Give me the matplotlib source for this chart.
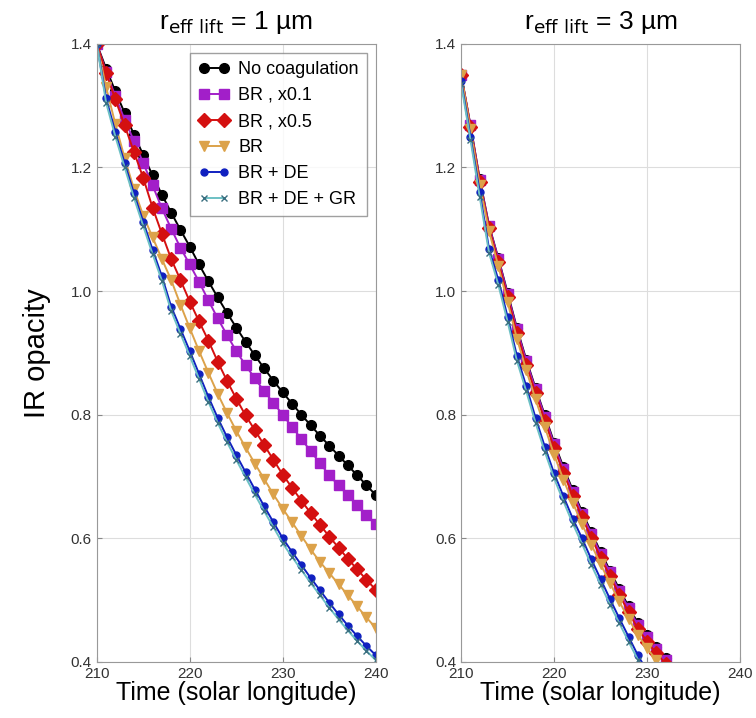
import numpy as np
import matplotlib.pyplot as plt

plt.rcParams['font.family'] = ['Liberation Sans', 'DejaVu Sans']

# time axis (solar longitude)
ls_left = np.arange(210, 241)
ls_right = np.arange(210, 234)

labels = ['No coagulation', 'BR , x0.1', 'BR , x0.5', 'BR', 'BR + DE', 'BR + DE + GR']

# r_eff lift = 1 um
left_nocoag = [1.400, 1.360, 1.323, 1.288, 1.253, 1.220, 1.187, 1.156, 1.127, 1.099, 1.072,
               1.043, 1.016, 0.990, 0.965, 0.941, 0.918, 0.896, 0.875, 0.855, 0.836,
               0.818, 0.800, 0.783, 0.766, 0.750, 0.734, 0.718, 0.702, 0.686, 0.670]
left_br01 = [1.400, 1.355, 1.315, 1.277, 1.243, 1.207, 1.171, 1.134, 1.101, 1.070, 1.043,
             1.015, 0.985, 0.956, 0.929, 0.903, 0.880, 0.859, 0.838, 0.819, 0.800,
             0.780, 0.761, 0.741, 0.722, 0.702, 0.686, 0.670, 0.654, 0.638, 0.623]
left_br05 = [1.400, 1.353, 1.310, 1.268, 1.225, 1.183, 1.135, 1.093, 1.052, 1.018, 0.983,
             0.951, 0.920, 0.886, 0.855, 0.826, 0.799, 0.775, 0.751, 0.727, 0.703,
             0.682, 0.661, 0.641, 0.622, 0.603, 0.585, 0.567, 0.550, 0.533, 0.517]
left_br = [1.400, 1.330, 1.270, 1.215, 1.165, 1.122, 1.087, 1.052, 1.018, 0.978, 0.940,
           0.903, 0.868, 0.834, 0.803, 0.774, 0.747, 0.721, 0.696, 0.671, 0.648,
           0.626, 0.604, 0.582, 0.562, 0.544, 0.526, 0.508, 0.490, 0.472, 0.455]
left_brde = [1.400, 1.312, 1.257, 1.207, 1.158, 1.112, 1.067, 1.024, 0.975, 0.939, 0.903,
             0.866, 0.829, 0.795, 0.764, 0.735, 0.707, 0.679, 0.652, 0.626, 0.600,
             0.578, 0.557, 0.536, 0.516, 0.496, 0.477, 0.459, 0.442, 0.426, 0.411]
left_brdegr = [1.400, 1.305, 1.250, 1.200, 1.151, 1.105, 1.060, 1.017, 0.968, 0.931, 0.895,
               0.858, 0.821, 0.787, 0.756, 0.727, 0.699, 0.671, 0.644, 0.618, 0.592,
               0.570, 0.549, 0.528, 0.508, 0.488, 0.469, 0.451, 0.434, 0.418, 0.403]

# r_eff lift = 3 um
right_nocoag = [1.350, 1.268, 1.181, 1.106, 1.053, 0.997, 0.940, 0.889, 0.843, 0.799, 0.755,
                0.715, 0.678, 0.643, 0.610, 0.578, 0.548, 0.518, 0.490, 0.463, 0.443,
                0.424, 0.407, 0.391]
right_br01 = [1.350, 1.268, 1.180, 1.105, 1.052, 0.995, 0.938, 0.887, 0.841, 0.797, 0.752,
              0.712, 0.675, 0.640, 0.607, 0.575, 0.545, 0.515, 0.487, 0.460, 0.440,
              0.421, 0.404, 0.388]
right_br05 = [1.350, 1.266, 1.177, 1.102, 1.047, 0.990, 0.932, 0.881, 0.835, 0.790, 0.746,
              0.706, 0.669, 0.634, 0.601, 0.569, 0.539, 0.509, 0.481, 0.454, 0.433,
              0.414, 0.397, 0.382]
right_br = [1.350, 1.262, 1.172, 1.097, 1.040, 0.982, 0.923, 0.872, 0.825, 0.780, 0.735,
            0.695, 0.658, 0.623, 0.590, 0.558, 0.528, 0.498, 0.470, 0.444, 0.422,
            0.403, 0.386, 0.371]
right_brde = [1.340, 1.250, 1.160, 1.068, 1.018, 0.958, 0.895, 0.846, 0.795, 0.748, 0.705,
              0.668, 0.632, 0.600, 0.566, 0.534, 0.502, 0.471, 0.441, 0.411, 0.385,
              0.362, 0.341, 0.322]
right_brdegr = [1.335, 1.245, 1.152, 1.062, 1.010, 0.950, 0.887, 0.838, 0.787, 0.740, 0.697,
                0.660, 0.624, 0.591, 0.557, 0.525, 0.493, 0.463, 0.433, 0.404, 0.378,
                0.355, 0.334, 0.315]

styles = [
    dict(color='black', marker='o', ms=7),
    dict(color='#a21fc9', marker='s', ms=7),
    dict(color='#d41010', marker='D', ms=7),
    dict(color='#dca24a', marker='v', ms=7),
    dict(color='#1020c0', marker='o', ms=5),
    dict(color='#6cc0c4', marker='x', ms=5, mec='#3a6f80'),
]

fig = plt.figure(figsize=(7.56, 7.18), dpi=100)
ax1 = fig.add_axes([0.128, 0.078, 0.369, 0.861])
ax2 = fig.add_axes([0.610, 0.078, 0.369, 0.861])

left_data = [left_nocoag, left_br01, left_br05, left_br, left_brde, left_brdegr]
right_data = [right_nocoag, right_br01, right_br05, right_br, right_brde, right_brdegr]

for ax, t, data, title in [(ax1, ls_left, left_data, r'r$_{\rm eff\ lift}$ = 1 µm'),
                           (ax2, ls_right, right_data, r'r$_{\rm eff\ lift}$ = 3 µm')]:
    for vals, st, lab in zip(data, styles, labels):
        mec = st.get('mec', st['color'])
        ax.plot(t, vals, color=st['color'], marker=st['marker'], ms=st['ms'],
                mec=mec, lw=1.4, label=lab)
    ax.set_xlim(210, 240)
    ax.set_ylim(0.4, 1.4)
    ax.set_xticks([210, 220, 230, 240])
    ax.set_yticks([0.4, 0.6, 0.8, 1.0, 1.2, 1.4])
    ax.grid(True, color='#dddddd', lw=0.8)
    ax.tick_params(direction='in', labelsize=11, labelcolor='#333333', color='#888888')
    for sp in ax.spines.values():
        sp.set_color('#999999')
    ax.set_title(title, fontsize=19, pad=11)
    ax.set_xlabel('Time (solar longitude)', fontsize=18, labelpad=0)

ax1.set_ylabel('IR opacity', fontsize=21, labelpad=14)
leg = ax1.legend(loc='upper right', numpoints=2, fontsize=13, fancybox=False,
                 handlelength=1.7, borderaxespad=0.5, labelspacing=0.5,
                 handletextpad=0.5, borderpad=0.45)
leg.get_frame().set_edgecolor('#888888')

plt.savefig('out.png', dpi=100)
